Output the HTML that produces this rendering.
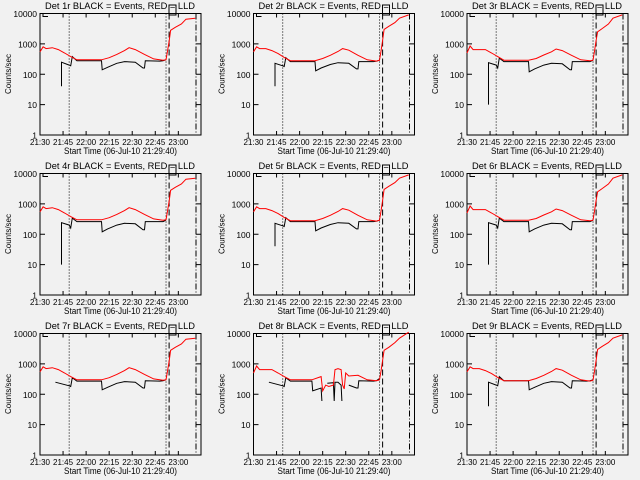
<!DOCTYPE html>
<html><head><meta charset="utf-8"><style>
body{margin:0;background:#f1f1f1;}
svg{display:block;font-family:"Liberation Sans",sans-serif;}
text{font-size:9px;fill:#000;}
</style></head><body>
<svg id="c" width="640" height="480" viewBox="0 0 640 480"></svg>
<script>
const panelNames = ["1r","2r","3r","4r","5r","6r","7r","8r","9r"];
const yTickLabels = ["1","10","100","1000","10000"];
const xTickLabels = ["21:30","21:45","22:00","22:15","22:30","22:45","23:00"];
const markerTimes = [19, 82, 84, 101.5]; // minutes after 21:30
const redA = [[0,550],[2,800],[4,700],[8,750],[12,650],[16,500],[20,380],[24,300],[40,300],[45,350],[50,450],[55,600],[58,750],[62,650],[68,450],[74,320],[80,290],[82,300],[83,600],[84,1200],[85,2800],[88,3500],[92,4500],[95,6500],[101,7000]];
const blackA = [[14,40],[14,250],[19,200],[20,190],[21,380],[24,280],[40,280],[40.5,140],[44,170],[50,230],[55,260],[62,250],[67,160],[68,160],[68.5,280],[78,270],[80,280],[82,300]];
const redB = [[0,550],[2,800],[4,700],[8,700],[12,600],[16,480],[20,360],[24,280],[40,280],[45,330],[50,420],[55,560],[58,700],[62,620],[68,420],[74,300],[80,270],[82,290],[83,600],[84,1300],[85,3000],[88,3800],[92,5000],[95,7000],[101,9000]];
const blackB = [[14,40],[14,230],[19,190],[20,180],[21,350],[24,260],[40,260],[40.5,130],[44,160],[50,210],[55,240],[62,230],[67,150],[68,150],[68.5,260],[78,260],[80,270],[82,290]];
const redC = [[0,500],[2,850],[4,650],[8,650],[12,650],[16,500],[20,380],[24,290],[40,290],[45,330],[50,430],[55,550],[58,680],[62,600],[68,420],[74,300],[80,280],[82,290],[83,600],[84,1300],[85,2500],[88,3200],[92,4500],[95,7000],[101,9000]];
const blackC = [[14,10],[14,240],[19,200],[20,160],[21,340],[24,260],[40,260],[40.5,120],[44,150],[50,200],[55,230],[62,220],[67,140],[68,140],[68.5,260],[78,260],[80,260],[82,290]];
const black7 = [[10,250],[19,190],[20,180],[21,350],[24,270],[40,270],[40.5,140],[44,170],[50,230],[55,260],[62,250],[67,160],[68,160],[68.5,280],[78,270],[80,280],[82,300]];
const red8 = [[0,500],[2,850],[4,650],[8,650],[12,650],[16,500],[20,380],[24,300],[38,300],[44,380],[45,130],[47,200],[49,180],[52,200],[53,650],[55,700],[57,650],[58,200],[59,150],[60,500],[62,400],[68,420],[74,300],[80,280],[82,300],[83,600],[84,1300],[85,2800],[88,3500],[92,5000],[95,7000],[101,11000]];
const black8 = [[10,250],[19,190],[20,180],[21,350],[24,270],[38,270],[38.5,130],[44,160],[44.5,60],[45,null],[48,230],[52,240],[52.5,60],[53,250],[55,250],[57,200],[57.5,60],[58,null],[62,200],[67,160],[68,160],[68.5,280],[78,270],[80,280],[82,330]];
const panelRed = [redA,redB,redC,redA,redB,redC,redA,red8,redB];
const panelBlack = [blackA,blackB,blackC,blackC,blackB,blackC,black7,black8,blackA];

const NS="http://www.w3.org/2000/svg";
const svg=document.getElementById('c');
function mk(tag,attrs,parent){const e=document.createElementNS(NS,tag);for(const k in attrs)e.setAttribute(k,attrs[k]);parent.appendChild(e);return e;}
const X0=40,X1=201,Y0=135,Y1=13.5,PPM=1.537;
function xs(t){return X0+t*PPM;}
function ys(v){return Y0-(Math.log10(v))*(Y0-Y1)/4;}
function pathFor(data){let d="",pen=false;for(const [t,v] of data){if(v==null){pen=false;continue;}d+=(pen?"L":"M")+xs(t).toFixed(1)+","+ys(v).toFixed(1);pen=true;}return d;}

panelNames.forEach((nm,i)=>{
  const col=i%3,row=Math.floor(i/3);
  const g=mk('g',{transform:`translate(${(col*213.5).toFixed(1)},${row*160})`},svg);
  
  
  const frame=mk('rect',{x:X0,y:Y1,width:X1-X0,height:Y0-Y1,fill:'none',stroke:'#000','stroke-width':1},g);
  
  
  const tt=mk('text',{x:45,y:9,textLength:150,lengthAdjust:'spacingAndGlyphs'},g);tt.textContent=`Det ${nm} BLACK = Events, RED = LLD`;
  
  
  yTickLabels.forEach((lb,k)=>{const y=ys(Math.pow(10,k));
    mk('line',{x1:X0,x2:X0+5,y1:y,y2:y,stroke:'#000'},g);mk('line',{x1:X1-5,x2:X1,y1:y,y2:y,stroke:'#000'},g);
    const t=mk('text',{x:X0-3,y:y+3.5,'text-anchor':'end',style:'font-size:8.5px'},g);t.textContent=lb;
    
    });
  xTickLabels.forEach((lb,k)=>{const x=xs(k*15);
    mk('line',{x1:x,x2:x,y1:Y0,y2:Y0-4,stroke:'#000'},g);mk('line',{x1:x,x2:x,y1:Y1,y2:Y1+4,stroke:'#000'},g);
    const t=mk('text',{x:x-10,y:Y0+10,textLength:20,lengthAdjust:'spacingAndGlyphs',style:'font-size:8.5px'},g);t.textContent=lb;
    
    });
  const xt=mk('text',{x:64,y:Y0+19,textLength:113,lengthAdjust:'spacingAndGlyphs'},g);xt.textContent="Start Time (06-Jul-10 21:29:40)";
  
  
  const yt=mk('text',{x:0,y:0,'text-anchor':'middle',transform:`translate(11,74) rotate(-90)`,style:'font-size:8px'},g);yt.textContent="Counts/sec";
  
  
  const styles=['1,2','1,2','6,3','6,2,1,2'];
  markerTimes.forEach((t,k)=>{const l=mk('line',{x1:xs(t),x2:xs(t),y1:Y1,y2:Y0,stroke:'#000','stroke-dasharray':styles[k]},g);
    
    });
  mk('path',{d:`M43,${Y1}v3h5`,fill:'none',stroke:'#000'},g);
  mk('rect',{x:169,y:5,width:7,height:10,fill:'none',stroke:'#000'},g);
  const b=mk('path',{d:pathFor(panelBlack[i]),fill:'none',stroke:'#000','stroke-width':1},g);
  
  
  const r=mk('path',{d:pathFor(panelRed[i]),fill:'none',stroke:'#f00','stroke-width':1},g);
  
  
});
</script>
</body></html>
